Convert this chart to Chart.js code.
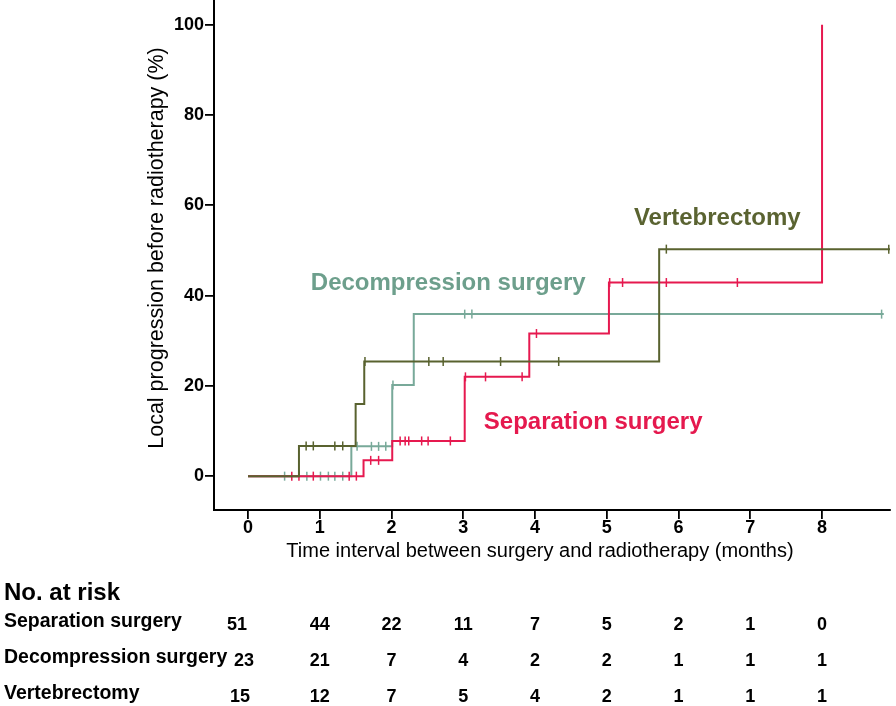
<!DOCTYPE html>
<html>
<head>
<meta charset="utf-8">
<script src="https://cdn.jsdelivr.net/npm/chart.js@4/dist/chart.umd.min.js"></script>
<style>
  html, body { margin: 0; padding: 0; background: #fff; }
  #wrap { width: 896px; height: 706px; }
</style>
</head>
<body>
<div id="wrap"><canvas id="km" width="896" height="706"></canvas></div>
<script>
// groups
const groups = ['Separation surgery', 'Decompression surgery', 'Vertebrectomy'];

// step curves (time in months, cumulative local progression %)
const sepTimes = [0, 1.61, 2.01, 3.02, 3.92, 5.03, 8.0];
const sepValues = [0, 3.5, 7.8, 22.0, 31.6, 42.9, 100];
const decTimes = [0, 1.44, 2.01, 2.31, 8.86];
const decValues = [0, 6.6, 20.2, 35.9, 35.9];
const verTimes = [0, 0.71, 1.50, 1.62, 5.73, 8.95];
const verValues = [0, 6.7, 16.0, 25.4, 50.3, 50.3];

// censored observations
const sepCensor = [0.61, 0.71, 0.91, 1.41, 1.51, 1.71, 1.82, 2.12, 2.19, 2.24, 2.42, 2.51, 2.82, 3.03, 3.31, 3.82, 4.02, 5.04, 5.22, 5.83, 6.82];
const decCensor = [0.51, 0.82, 1.01, 1.12, 1.21, 1.32, 1.52, 1.72, 1.82, 1.92, 2.02, 3.02, 3.12, 8.83];
const verCensor = [0.81, 0.91, 1.21, 1.32, 1.63, 2.52, 2.72, 3.52, 4.33, 5.83, 8.93];

// axes
const xTicks = [0, 1, 2, 3, 4, 5, 6, 7, 8];
const yTicks = [0, 20, 40, 60, 80, 100];
const xTitle = 'Time interval between surgery and radiotherapy (months)';
const yTitle = 'Local progression before radiotherapy (%)';

// number at risk
const riskTimes = [0, 1, 2, 3, 4, 5, 6, 7, 8];
const riskSep = [51, 44, 22, 11, 7, 5, 2, 1, 0];
const riskDec = [23, 21, 7, 4, 2, 2, 1, 1, 1];
const riskVer = [15, 12, 7, 5, 4, 2, 1, 1, 1];

const colSep = '#e6194f';
const colDec = '#78a999';
const colVer = '#59622f';

const sans = "'Liberation Sans', Arial, sans-serif";

function toPoints(ts, vs) {
  return ts.map((t, i) => ({ x: t, y: vs[i] }));
}

// value of the step curve at time t
function stepAt(ts, vs, t) {
  let v = vs[0];
  for (let i = 0; i < ts.length; i++) {
    if (ts[i] <= t) v = vs[i];
  }
  return v;
}

function censorPoints(ts, vs, cs) {
  return cs.map(t => ({ x: t, y: stepAt(ts, vs, t) }));
}

function curve(data, color, order) {
  return {
    type: 'line',
    data: data,
    stepped: true,
    borderColor: color,
    borderWidth: 2,
    pointRadius: 0,
    fill: false,
    order: order
  };
}

function censor(data, color, order) {
  return {
    type: 'scatter',
    data: data,
    showLine: false,
    pointStyle: 'line',
    rotation: 90,
    pointRadius: 4.5,
    pointBorderWidth: 1.5,
    borderColor: color,
    backgroundColor: color,
    order: order
  };
}

// axis titles, curve labels and the risk table
const extras = {
  id: 'extras',
  afterDraw(chart) {
    const ctx = chart.ctx;
    const xs = chart.scales.x;
    const ys = chart.scales.y;
    ctx.save();
    ctx.textBaseline = 'middle';

    // axis titles
    ctx.fillStyle = '#000';
    ctx.textAlign = 'center';
    ctx.font = '20px ' + sans;
    ctx.fillText(xTitle, 540, 551);
    ctx.save();
    ctx.translate(157, 248);
    ctx.rotate(-Math.PI / 2);
    ctx.font = '21.5px ' + sans;
    ctx.fillText(yTitle, 0, 0);
    ctx.restore();

    // curve labels
    ctx.font = 'bold 24px ' + sans;
    ctx.fillStyle = '#5a6331';
    ctx.fillText('Vertebrectomy', xs.getPixelForValue(6.54), ys.getPixelForValue(57.2));
    ctx.fillStyle = '#6d9f8c';
    ctx.fillText('Decompression surgery', xs.getPixelForValue(2.79), ys.getPixelForValue(42.8));
    ctx.fillStyle = '#e5194e';
    ctx.fillText('Separation surgery', xs.getPixelForValue(4.81), ys.getPixelForValue(12.0));

    // number at risk
    ctx.fillStyle = '#000';
    ctx.textAlign = 'left';
    ctx.font = 'bold 24px ' + sans;
    ctx.fillText('No. at risk', 4, 593);

    const rows = [riskSep, riskDec, riskVer];
    const rowY = [622, 658, 694];
    const firstShift = [-11, -4, -8];
    rows.forEach((row, r) => {
      ctx.textAlign = 'left';
      ctx.font = 'bold 19.5px ' + sans;
      ctx.fillText(groups[r], 4, rowY[r]);
      ctx.textAlign = 'center';
      ctx.font = 'bold 18px ' + sans;
      row.forEach((n, i) => {
        const shift = i === 0 ? firstShift[r] : 0;
        ctx.fillText(String(n), xs.getPixelForValue(riskTimes[i]) + shift, rowY[r] + 3);
      });
    });
    ctx.restore();
  }
};

new Chart(document.getElementById('km'), {
  type: 'line',
  data: {
    datasets: [
      curve(toPoints(verTimes, verValues), colVer, 1),
      censor(censorPoints(verTimes, verValues, verCensor), colVer, 0),
      curve(toPoints(sepTimes, sepValues), colSep, 3),
      censor(censorPoints(sepTimes, sepValues, sepCensor), colSep, 2),
      curve(toPoints(decTimes, decValues), colDec, 5),
      censor(censorPoints(decTimes, decValues, decCensor), colDec, 4)
    ]
  },
  options: {
    responsive: false,
    animation: false,
    devicePixelRatio: 1,
    layout: { autoPadding: false, padding: { left: 0, right: 6, top: 0, bottom: 136 } },
    plugins: {
      legend: { display: false },
      tooltip: { enabled: false }
    },
    scales: {
      x: {
        type: 'linear',
        min: -0.474,
        max: 8.947,
        afterBuildTicks: s => { s.ticks = xTicks.map(v => ({ value: v })); },
        afterFit: s => { s.height = 60; s.paddingLeft = 0; s.paddingRight = 0; },
        grid: { display: true, drawOnChartArea: false, drawTicks: true, tickLength: 9, color: '#000', lineWidth: 1.8 },
        border: { display: true, color: '#000', width: 2 },
        ticks: { color: '#000', padding: -2, maxRotation: 0, font: { family: sans, weight: 'bold', size: 18 } }
      },
      y: {
        type: 'linear',
        min: -7.5,
        max: 105.5,
        afterBuildTicks: s => { s.ticks = yTicks.map(v => ({ value: v })); },
        afterFit: s => { s.width = 214; s.paddingTop = 0; s.paddingBottom = 0; },
        grid: { display: true, drawOnChartArea: false, drawTicks: true, tickLength: 9, color: '#000', lineWidth: 1.8 },
        border: { display: true, color: '#000', width: 2 },
        ticks: { color: '#000', padding: 1, font: { family: sans, weight: 'bold', size: 18 } }
      }
    }
  },
  plugins: [extras]
});
</script>
</body>
</html>
